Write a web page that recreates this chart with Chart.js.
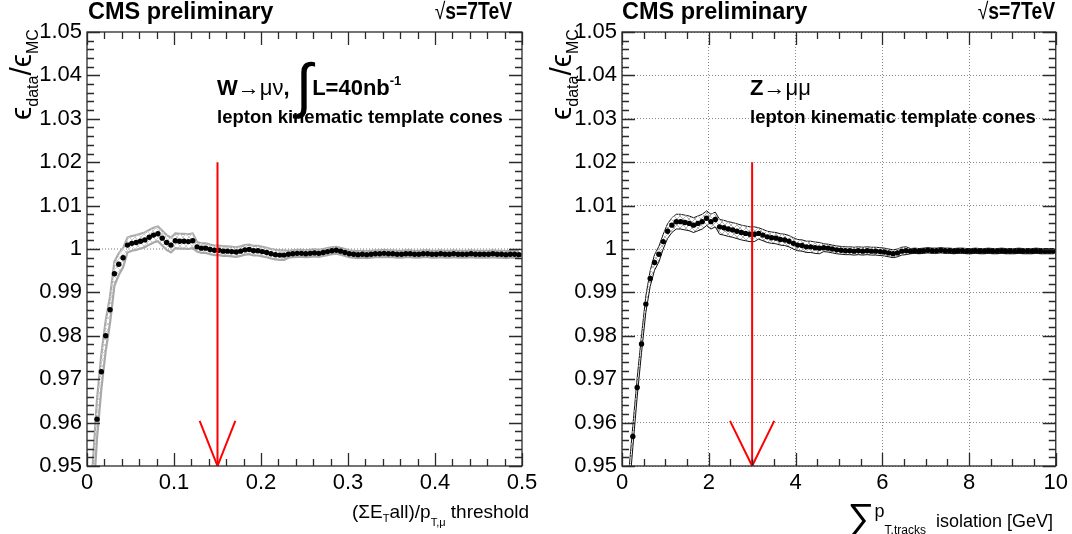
<!DOCTYPE html>
<html>
<head>
<meta charset="utf-8">
<script src="https://cdn.jsdelivr.net/npm/chart.js@4.4.1/dist/chart.umd.min.js"></script>
<style>
  body { margin: 0; background: #fff; }
  #page { position: relative; width: 1072px; height: 534px; overflow: hidden; background: #fff; }
  canvas { position: absolute; top: 0; }
  .t { position: absolute; white-space: nowrap; font-family: "Liberation Sans", Arial, Helvetica, sans-serif; color: #000; }
  .b { font-weight: bold; }
  .n { font-weight: normal; }
  .sq { transform-origin: 100% 50%; transform: scaleX(0.84); }
  .ytitle { position: absolute; white-space: nowrap; font-family: "Liberation Sans", "DejaVu Sans", sans-serif;
            font-size: 30px; line-height: 30px; transform-origin: 0 0; transform: rotate(-90deg); }
  .ytitle sub { font-size: 16px; vertical-align: -7px; line-height: 0; }
</style>
</head>
<body>
<div id="page">
  <canvas id="chartW" width="560" height="534" style="left:0"></canvas>
  <canvas id="chartZ" width="536" height="534" style="left:536px"></canvas>

  <!-- left panel texts -->
  <div class="t b" style="left:88px;top:-2px;font-size:23.5px;line-height:26px">CMS preliminary</div>
  <div class="t b sq" style="right:560px;top:-2px;font-size:23px;line-height:26px"><span class="n">&radic;</span>s=7TeV</div>
  <div class="ytitle" style="left:6px;top:120px">&#x3F5;<sub>data</sub>/&#x3F5;<sub>MC</sub></div>
  <div class="t b" style="left:217px;top:75px;font-size:22px;line-height:26px">W<span class="n">&rarr;&mu;&nu;</span>, <span class="n" style="font-size:60px;line-height:0;vertical-align:-11px">&int;</span>L=40nb<sup style="font-size:13px;line-height:0;vertical-align:10px">-1</sup></div>
  <div class="t b" style="left:217px;top:106px;font-size:18.5px;line-height:22px">lepton kinematic template cones</div>
  <div class="t" style="right:543px;top:501px;font-size:19px;line-height:22px">(&Sigma;E<sub style="font-size:11px;vertical-align:-4px;line-height:0">T</sub>all)/p<sub style="font-size:11px;vertical-align:-8px;line-height:0">T,&mu;</sub> threshold</div>

  <!-- right panel texts -->
  <div class="t b" style="left:622px;top:-2px;font-size:23.5px;line-height:26px">CMS preliminary</div>
  <div class="t b sq" style="right:17px;top:-2px;font-size:23px;line-height:26px"><span class="n">&radic;</span>s=7TeV</div>
  <div class="ytitle" style="left:546px;top:120px">&#x3F5;<sub>data</sub>/&#x3F5;<sub>MC</sub></div>
  <div class="t b" style="left:750px;top:75px;font-size:22px;line-height:26px">Z<span class="n">&rarr;&mu;&mu;</span></div>
  <div class="t b" style="left:750px;top:106px;font-size:18.5px;line-height:22px">lepton kinematic template cones</div>
  <div class="t" style="right:19px;top:500px;font-size:18px;line-height:22px"><span style="font-size:38px;line-height:0;vertical-align:-3px">&sum;</span><span style="vertical-align:10px">p</span><sub style="font-size:12px;vertical-align:-7px;line-height:0">T,tracks</sub> &nbsp;isolation [GeV]</div>
</div>

<script>
// ---- data: W -> mu nu, (sum ET all)/pT threshold scan ----
var wStart = 0.0015, wStep = 0.005;
var ratioW = [
  0.900, 0.945, 0.9608, 0.9717, 0.9800, 0.9860, 0.9943, 0.9965, 0.9980, 1.0009,
  1.0013, 1.0015, 1.0018, 1.0021, 1.0027, 1.0032, 1.0035, 1.0025, 1.0015, 1.0009,
  1.0019, 1.0018, 1.0018, 1.0017, 1.0019, 1.0005, 1.0002, 1.0002, 0.9999, 0.9997,
  0.9997, 0.9995, 0.9995, 0.9994, 0.9993, 0.9995, 0.9998, 0.9999, 0.9996, 0.9996,
  0.9994, 0.9992, 0.9989, 0.9987, 0.9986, 0.9986, 0.9988, 0.9989, 0.9990, 0.9990,
  0.9989, 0.9990, 0.9991, 0.9990, 0.9992, 0.9994, 0.9996, 0.9997, 0.9995, 0.9992,
  0.9989, 0.9988, 0.9987, 0.9988, 0.9987, 0.9988, 0.9989, 0.9989, 0.9990, 0.9989,
  0.9989, 0.9988, 0.9988, 0.9989, 0.9989, 0.9988, 0.9988, 0.9989, 0.9989, 0.9988,
  0.9988, 0.9989, 0.9988, 0.9988, 0.9989, 0.9988, 0.9988, 0.9988, 0.9989, 0.9988,
  0.9988, 0.9988, 0.9988, 0.9989, 0.9988, 0.9988, 0.9987, 0.9988, 0.9988, 0.9987
];
var errW = [
  0.006, 0.005, 0.0045, 0.004, 0.0035, 0.003, 0.0028, 0.0025, 0.0022, 0.0017,
  0.0017, 0.0017, 0.0017, 0.0017, 0.0017, 0.0017, 0.0017, 0.0017, 0.0017, 0.0017,
  0.0017, 0.0017, 0.0017, 0.0017, 0.0017, 0.0011, 0.0011, 0.0011, 0.0011, 0.0011,
  0.0011, 0.0011, 0.0011, 0.0011, 0.0011, 0.0011, 0.0011, 0.0011, 0.0011, 0.0011,
  0.0011, 0.0011, 0.0011, 0.0011, 0.0011, 0.0011, 0.0008, 0.0008, 0.0008, 0.0008
].concat(Array(50).fill(0.0008));

// ---- data: Z -> mu mu, sum pT tracks isolation scan ----
var zStart = 0.05, zStep = 0.1;
var ratioZ = [
  0.925, 0.945, 0.9568, 0.9681, 0.9781, 0.9873, 0.9932, 0.9969, 0.9988, 1.0017,
  1.0041, 1.0055, 1.0063, 1.0063, 1.0061, 1.0059, 1.0055, 1.0059, 1.0063, 1.0071,
  1.0063, 1.0068, 1.0051, 1.0049, 1.0046, 1.0044, 1.0041, 1.0038, 1.0036, 1.0034,
  1.0034, 1.0036, 1.0032, 1.0028, 1.0026, 1.0025, 1.0022, 1.0021, 1.0018, 1.0013,
  1.0009, 1.0008, 1.0005, 1.0005, 1.0003, 1.0002, 1.0003, 1.0002, 1.0000, 0.9998,
  0.9997, 0.9996, 0.9996, 0.9995, 0.9996, 0.9995, 0.9996, 0.9995, 0.9995, 0.9994,
  0.9993, 0.9991, 0.9989, 0.9991, 0.9995, 0.9996, 0.9995, 0.9996, 0.9995, 0.9996,
  0.9997, 0.9996, 0.9996, 0.9997, 0.9996, 0.9996, 0.9995, 0.9996, 0.9996, 0.9995,
  0.9995, 0.9996, 0.9995, 0.9995, 0.9996, 0.9995, 0.9995, 0.9996, 0.9995, 0.9995,
  0.9995, 0.9996, 0.9995, 0.9995, 0.9995, 0.9996, 0.9995, 0.9995, 0.9995, 0.9995
];
var errZ = [
  0.003, 0.0028, 0.0025, 0.0022, 0.002, 0.0019, 0.0018, 0.0018, 0.0018, 0.0017,
  0.0017, 0.0017, 0.0017, 0.0017, 0.0017, 0.0017, 0.0017, 0.0017, 0.0017, 0.0017,
  0.0017, 0.0017, 0.0017, 0.0017, 0.0017, 0.0017, 0.0017, 0.0017, 0.0017, 0.0017,
  0.0017, 0.0013, 0.0013, 0.0013, 0.0013, 0.0013, 0.0013, 0.0013, 0.0013, 0.0013,
  0.0013, 0.0013, 0.0013, 0.0013, 0.0013, 0.0013, 0.0009, 0.0009, 0.0009, 0.0009,
  0.0009, 0.0009, 0.0009, 0.0009, 0.0009, 0.0009, 0.0009, 0.0009, 0.0009, 0.0009,
  0.0009, 0.0009, 0.0009, 0.0009, 0.0009, 0.0009
].concat(Array(34).fill(0.0006));

// tick labels
var yTickLabels = ['0.95', '0.96', '0.97', '0.98', '0.99', '1', '1.01', '1.02', '1.03', '1.04', '1.05'];
var xTickLabelsW = ['0', '0.1', '0.2', '0.3', '0.4', '0.5'];
var xTickLabelsZ = ['0', '2', '4', '6', '8', '10'];

// cut arrows: [x of cut, top of arrow, head half width, head bottom]
var arrowW = [0.15, 1.02, 0.0205, 0.9604];
var arrowZ = [3.0, 1.02, 0.51, 0.9604];

var FONT = '"Liberation Sans", Arial, Helvetica, sans-serif';

/* hatched fill for the error band */
function hatch(color) {
  var c = document.createElement('canvas');
  c.width = 6; c.height = 6;
  var g = c.getContext('2d');
  g.strokeStyle = color;
  g.lineWidth = 1;
  g.beginPath();
  g.moveTo(0, 6); g.lineTo(6, 0);
  g.moveTo(0, 0); g.lineTo(6, 6);
  g.stroke();
  return g.createPattern(c, 'repeat');
}

function pts(start, step, vals, sign, err) {
  return vals.map(function (v, i) {
    return { x: start + step * i, y: err ? v + sign * err[i] : v };
  });
}

// frame plus ROOT-style inner ticks on all four sides
var frameTicks = {
  id: 'frameTicks',
  afterDatasetsDraw: function (chart, args, opts) {
    var ctx = chart.ctx, a = chart.chartArea, xs = chart.scales.x, ys = chart.scales.y;
    ctx.save();
    ctx.strokeStyle = '#2a2a2a';
    ctx.lineWidth = 1.3;
    ctx.beginPath();
    var k, p, len;
    var nx = Math.round((xs.max - xs.min) / opts.xMinor);
    for (k = 0; k <= nx; k++) {
      p = Math.round(xs.getPixelForValue(xs.min + k * opts.xMinor)) + 0.5;
      len = (k % opts.xPer === 0) ? 13 : 7;
      ctx.moveTo(p, a.bottom); ctx.lineTo(p, a.bottom - len);
      ctx.moveTo(p, a.top); ctx.lineTo(p, a.top + len);
    }
    var ny = Math.round((ys.max - ys.min) / 0.002);
    for (k = 0; k <= ny; k++) {
      p = Math.round(ys.getPixelForValue(ys.min + k * 0.002)) + 0.5;
      len = (k % 5 === 0) ? 13 : 7;
      ctx.moveTo(a.left, p); ctx.lineTo(a.left + len, p);
      ctx.moveTo(a.right, p); ctx.lineTo(a.right - len, p);
    }
    ctx.stroke();
    ctx.strokeRect(a.left, a.top, a.right - a.left, a.bottom - a.top);
    ctx.restore();
  }
};

function makeChart(id, cfg) {
  var datasets = [
    // error band: upper edge then lower edge filled to it
    { data: pts(cfg.start, cfg.step, cfg.vals, 1, cfg.err), borderColor: cfg.bandLine, borderWidth: cfg.bandWidth,
      pointRadius: 0, fill: false, order: 5, tension: 0 },
    { data: pts(cfg.start, cfg.step, cfg.vals, -1, cfg.err), borderColor: cfg.bandLine, borderWidth: cfg.bandWidth,
      pointRadius: 0, fill: '-1', backgroundColor: hatch(cfg.hatch), order: 4, tension: 0 },
    // measured ratio
    { data: pts(cfg.start, cfg.step, cfg.vals), showLine: false, pointRadius: 2.7, pointBackgroundColor: '#000',
      pointBorderWidth: 0, order: 2 },
    // cut arrow
    { data: [{ x: cfg.arrow[0], y: cfg.arrow[1] }, { x: cfg.arrow[0], y: 0.95 }], borderColor: '#ff0000',
      borderWidth: 2, pointRadius: 0, order: 1 },
    { data: [{ x: cfg.arrow[0] - cfg.arrow[2], y: cfg.arrow[3] }, { x: cfg.arrow[0], y: 0.95 },
             { x: cfg.arrow[0] + cfg.arrow[2], y: cfg.arrow[3] }], borderColor: '#ff0000',
      borderWidth: 2, pointRadius: 0, order: 1 }
  ];
  if (cfg.unityLine) {
    datasets.push({ data: [{ x: 0, y: 1 }, { x: 0.5, y: 1 }], borderColor: '#777', borderWidth: 1,
      borderDash: [1, 2], pointRadius: 0, order: 6 });
  }
  return new Chart(document.getElementById(id), {
    type: 'line',
    data: { datasets: datasets },
    options: {
      responsive: false,
      animation: false,
      layout: { padding: { left: 0, right: cfg.padRight, top: 32, bottom: 0 } },
      plugins: { legend: { display: false }, tooltip: { enabled: false }, frameTicks: cfg.ticks },
      scales: {
        x: {
          type: 'linear', min: 0, max: cfg.xMax,
          ticks: { stepSize: cfg.xMajor, autoSkip: false, maxRotation: 0, padding: 4, color: '#000',
                   font: { family: FONT, size: 22 },
                   callback: function (v) { return cfg.xLabels[Math.round(v / cfg.xMajor)]; } },
          grid: { display: cfg.grid, color: '#8a8a8a', lineWidth: 1, drawTicks: false },
          border: { display: false, dash: [1, 2] },
          afterFit: function (s) { s.height = 68; }
        },
        y: {
          type: 'linear', min: 0.95, max: 1.05,
          ticks: { stepSize: 0.01, autoSkip: false, padding: 5, color: '#000',
                   font: { family: FONT, size: 22 },
                   callback: function (v) { return yTickLabels[Math.round((v - 0.95) / 0.01)]; } },
          grid: { display: cfg.grid, color: '#8a8a8a', lineWidth: 1, drawTicks: false },
          border: { display: false, dash: [1, 2] },
          afterFit: function (s) { s.width = cfg.yWidth; }
        }
      }
    },
    plugins: [frameTicks]
  });
}

makeChart('chartW', {
  start: wStart, step: wStep, vals: ratioW, err: errW,
  bandLine: '#a9a9a9', bandWidth: 2.2, hatch: '#cfcfcf',
  arrow: arrowW, unityLine: true, grid: false,
  xMax: 0.5, xMajor: 0.1, xLabels: xTickLabelsW,
  yWidth: 87, padRight: 38,
  ticks: { xMinor: 0.02, xPer: 5 }
});

makeChart('chartZ', {
  start: zStart, step: zStep, vals: ratioZ, err: errZ,
  bandLine: '#111', bandWidth: 1, hatch: '#b5b5b5',
  arrow: arrowZ, unityLine: false, grid: true,
  xMax: 10, xMajor: 2, xLabels: xTickLabelsZ,
  yWidth: 86, padRight: 15,
  ticks: { xMinor: 0.5, xPer: 4 }
});
</script>
</body>
</html>
